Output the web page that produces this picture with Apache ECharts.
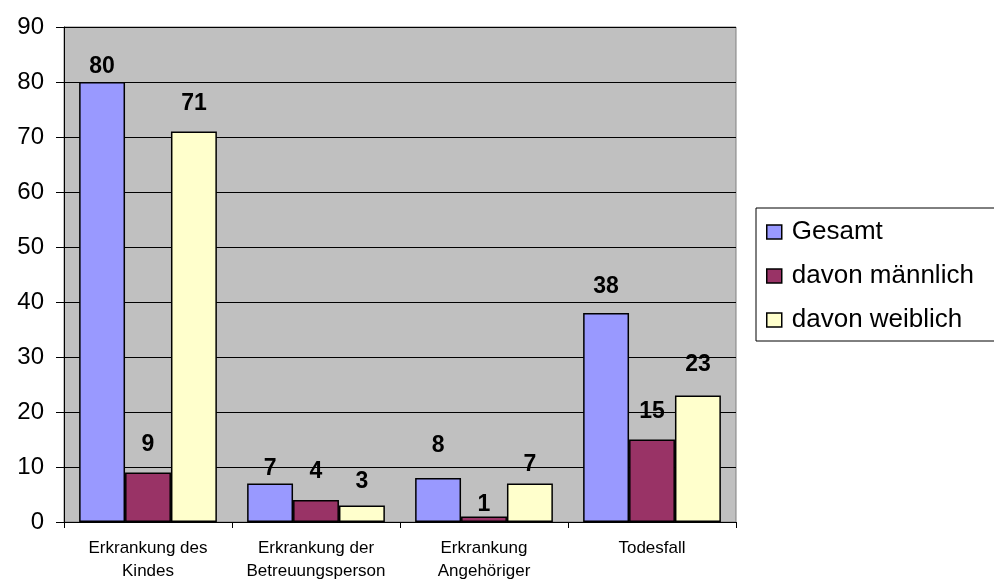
<!DOCTYPE html>
<html><head><meta charset="utf-8">
<script src="https://cdn.jsdelivr.net/npm/echarts@6/dist/echarts.min.js"></script>
<style>html,body{margin:0;padding:0;background:#fff}#c{width:994px;height:581px}</style>
</head><body><div id="c"></div>
<script>
const categories = ['Erkrankung des\nKindes', 'Erkrankung der\nBetreuungsperson', 'Erkrankung\nAngehöriger', 'Todesfall'];
const seriesNames = ['Gesamt', 'davon männlich', 'davon weiblich'];
const gesamt = [80, 7, 8, 38];
const maennlich = [9, 4, 1, 15];
const weiblich = [71, 3, 7, 23];
const colors = ['#9999FF', '#993366', '#FFFFCC'];
// label gaps above bars (style only), per series per category
const labelGaps = [[4, 3, 21, 15], [16, 17, 0, 16], [16, 12, 7, 19]];
const font = 'Liberation Sans, Arial, sans-serif';

const chart = echarts.init(document.getElementById('c'));
const mk = (idx, data) => ({
  name: seriesNames[idx], type: 'bar', barGap: '0%', barCategoryGap: '18%',
  data: data.map((v, i) => ({ value: v, label: { distance: labelGaps[idx][i] } })),
  itemStyle: { color: colors[idx], borderColor: '#000', borderWidth: 1.5 },
  label: { show: true, position: 'top', fontFamily: font, fontWeight: 'bold', fontSize: 23, color: '#000' }
});
chart.setOption({
  animation: false,
  grid: { left: 64, right: 258, top: 27, bottom: 59, outerBoundsMode: 'none', containLabel: false,
          backgroundColor: '#C0C0C0', show: true, borderWidth: 1, borderColor: '#808080' },
  legend: {
    orient: 'vertical', left: 756, top: 208,
    data: seriesNames,
    itemWidth: 15, itemHeight: 14, itemGap: 18,
    backgroundColor: '#fff', borderColor: '#000', borderWidth: 1,
    padding: [11, 60, 8, 10],
    textStyle: { fontFamily: font, fontSize: 26, color: '#000', padding: [0, 0, 0, 5] },
    icon: 'rect',
    itemStyle: { borderColor: '#000', borderWidth: 1.5 }
  },
  xAxis: {
    type: 'category', data: categories,
    axisLine: { lineStyle: { color: '#000', width: 1 } },
    axisTick: { show: true, length: 6, lineStyle: { color: '#000' } },
    axisLabel: { fontFamily: font, fontSize: 17, color: '#000', lineHeight: 23, margin: 15, interval: 0 }
  },
  yAxis: {
    type: 'value', min: 0, max: 90, interval: 10,
    axisLine: { show: true, lineStyle: { color: '#000', width: 1 } },
    axisTick: { show: true, length: 8, lineStyle: { color: '#000' } },
    splitLine: { lineStyle: { color: '#000', width: 1 } },
    axisLabel: { fontFamily: font, fontSize: 24, color: '#000', margin: 20 }
  },
  series: [mk(0, gesamt), mk(1, maennlich), mk(2, weiblich)]
});
</script></body></html>
